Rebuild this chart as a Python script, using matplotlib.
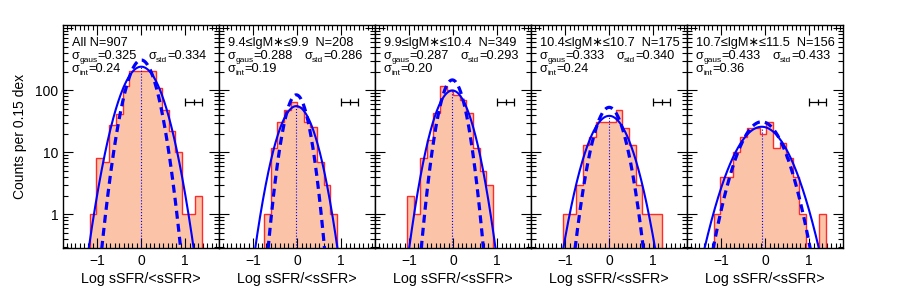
import numpy as np
import matplotlib.pyplot as plt
from matplotlib.ticker import MultipleLocator, LogLocator, NullFormatter, FixedFormatter, FixedLocator

plt.rcParams['font.family'] = ['Liberation Sans', 'DejaVu Sans']

# panel titles and fit widths
titles = ['All N=907', '9.4≤lgM∗≤9.9  N=208', '9.9≤lgM∗≤10.4  N=349',
          '10.4≤lgM∗≤10.7  N=175', '10.7≤lgM∗≤11.5  N=156']
sig_gaus = ['0.325', '0.288', '0.287', '0.333', '0.433']
sig_std = ['0.334', '0.286', '0.293', '0.340', '0.433']
sig_int = ['0.24', '0.19', '0.20', '0.24', '0.36']

# histograms (counts per 0.15 dex), first bin left edge
hist_start = [-1.175, -0.75, -1.05, -1.05, -1.175]
hist_counts = [
    [1, 8, 7, 28, 42, 118, 205, 205, 205, 205, 110, 48, 22, 10, 1, 1, 2],
    [1, 12, 31, 48, 66, 55, 31, 26, 7, 3, 1],
    [2, 1, 8, 16, 43, 118, 100, 85, 70, 43, 12, 5, 3],
    [1, 1, 3, 13, 18, 31, 31, 31, 48, 25, 13, 3, 1, 1, 1],
    [1, 4, 4, 10, 18, 25, 25, 20, 31, 12, 14, 8, 4, 1, 0, 0, 1],
]

# gaussian fits: centre, amplitude (solid: sigma_gaus, dashed: sigma_int)
fit_center = [0.0, -0.02, -0.02, 0.0, -0.08]
fit_amp = [242, 56, 100, 39, 26]
int_amp = [310, 85, 148, 53.5, 31.3]

# typical error bar
err_x, err_dx, err_y = 1.19, 0.2, 66

fig = plt.figure(figsize=(9, 3), dpi=100)
rend = fig.canvas.get_renderer()
W, H = 900, 300
left, top, bottom, pw = 63, 25, 248, 156
xs = np.linspace(-1.8, 1.8, 400)
fs = 9.2


def sig_label(ax, x, y, sub, val):
    # sigma with a small lowered subscript, built piece by piece
    dx = 0
    for s, size, dy in [('σ', fs, 0), (sub, fs * 0.66, -2.3), ('=' + val, fs, 0)]:
        t = ax.annotate(s, (x, y), xycoords='axes fraction', xytext=(dx, dy),
                        textcoords='offset points', fontsize=size, va='baseline')
        dx += t.get_window_extent(rend).width * 72 / fig.dpi


for i in range(5):
    ax = fig.add_axes([(left + i * pw) / W, (H - bottom) / H, pw / W, (bottom - top) / H])
    edges = hist_start[i] + 0.15 * np.arange(len(hist_counts[i]) + 1)
    vals = np.array(hist_counts[i], dtype=float)
    vals[vals == 0] = 1e-3
    ax.stairs(vals, edges, fill=True, color='#FBC3A8', baseline=1e-3, zorder=1)
    ax.stairs(vals, edges, color='#FF2A2A', lw=1.0, baseline=1e-3, zorder=2)

    sg = float(sig_gaus[i]); si = float(sig_int[i]); c = fit_center[i]
    ax.plot(xs, fit_amp[i] * np.exp(-(xs - c) ** 2 / (2 * sg ** 2)), color='#0000FF', lw=1.5, zorder=4)
    ax.plot(xs, int_amp[i] * np.exp(-(xs - c) ** 2 / (2 * si ** 2)), color='#0000FF', lw=2.3,
            ls=(0, (2.5, 1.6)), zorder=4)
    ax.plot([c, c], [1e-3, fit_amp[i]], color='#0000FF', lw=0.8, ls=':', zorder=3)

    ax.errorbar(err_x, err_y, xerr=err_dx, color='k', lw=0.9, capsize=3, capthick=0.9, zorder=5)
    ax.plot([err_x], [err_y], marker='|', ms=4, color='k', mew=0.9, zorder=5)

    ax.set_yscale('log')
    ax.set_xlim(-1.78, 1.77)
    ax.set_ylim(0.288, 1138)
    ax.xaxis.set_major_locator(MultipleLocator(1))
    ax.xaxis.set_minor_locator(MultipleLocator(0.1))
    ax.yaxis.set_major_locator(FixedLocator([1, 10, 100, 1000]))
    ax.yaxis.set_minor_locator(LogLocator(base=10, subs=np.arange(2, 10), numticks=20))
    ax.yaxis.set_minor_formatter(NullFormatter())
    ax.tick_params(which='both', direction='in', top=True, right=True, labelsize=10, width=0.8)
    ax.tick_params(which='major', length=7)
    ax.tick_params(which='minor', length=3.5)
    ax.set_xticks([-1, 0, 1])
    ax.set_xticklabels(['\u22121', '0', '1'])
    ax.tick_params(axis='x', pad=4)
    if i == 0:
        ax.yaxis.set_major_formatter(FixedFormatter(['1', '10', '100', '']))
        ax.set_ylabel('Counts per 0.15 dex', fontsize=10, labelpad=6)
    else:
        ax.set_yticklabels([])
    for s in ax.spines.values():
        s.set_linewidth(1.0)
    ax.set_xlabel('Log sSFR/<sSFR>', fontsize=10.3, labelpad=3)

    ax.text(0.055, 0.908, titles[i], transform=ax.transAxes, fontsize=fs, va='baseline')
    sig_label(ax, 0.055, 0.848, 'gaus', sig_gaus[i])
    sig_label(ax, 0.545, 0.848, 'std', sig_std[i])
    sig_label(ax, 0.055, 0.788, 'int', sig_int[i])

fig.savefig('out.png', dpi=100)
